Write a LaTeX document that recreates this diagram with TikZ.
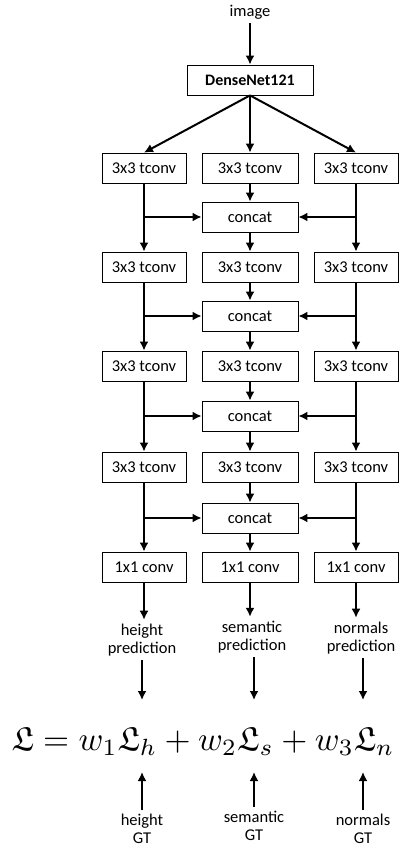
\documentclass[tikz,border=0pt]{standalone}
\usepackage{fontspec}
\setmainfont{Carlito}
\usepackage{amssymb}
\usepackage{graphicx}
\usetikzlibrary{arrows.meta}
\begin{document}
\begin{tikzpicture}[x=1pt,y=-1pt,
        >={Latex[length=9pt,width=9pt]},
        box/.style={draw,line width=0.8pt,minimum width=84pt,minimum height=30pt,inner sep=0pt,font=\fontsize{16.5}{18}\selectfont},
        midbox/.style={box,minimum width=96pt},
        lbl/.style={align=center,inner sep=4pt,font=\fontsize{16.5}{18}\selectfont},
        flow/.style={line width=2pt,->}]
    \useasboundingbox (0,0) rectangle (407,848);
    \node[lbl] (img) at (250,12) {image};
    \node[box,minimum width=126pt,font=\fontsize{16}{18}\selectfont\bfseries] (dn) at (250,80) {DenseNet121};
    \foreach \r/\y/\c in {1/168/217,2/267/316,3/366/416,4/467/518}{
        \node[box] (l\r) at (144,\y) {3x3 tconv};
        \node[midbox] (m\r) at (250,\y) {3x3 tconv};
        \node[box] (r\r) at (356,\y) {3x3 tconv};
        \node[midbox] (c\r) at (250,\c) {concat};
    }
    \node[box] (l5) at (144,567) {1x1 conv};
    \node[midbox] (m5) at (250,567) {1x1 conv};
    \node[box] (r5) at (356,567) {1x1 conv};
    \draw[flow] (img) -- (dn);
    \foreach \n in {l1,m1,r1}
        \draw[flow] (dn.south) -- (\n.north);
    \foreach \r in {1,2,3,4}{
        \pgfmathtruncatemacro{\s}{\r+1}
        \draw[flow] (m\r) -- (c\r);
        \draw[flow] (c\r) -- (m\s);
        \draw[flow] (l\r) -- (l\s);
        \draw[flow] (r\r) -- (r\s);
        \draw[flow] (l\r.south |- c\r.west) -- (c\r.west);
        \draw[flow] (r\r.south |- c\r.east) -- (c\r.east);
    }
    \node[lbl] (hp) at (142,640) {height\\prediction};
    \node[lbl] (sp) at (252,637) {semantic\\prediction};
    \node[lbl] (np) at (361,638) {normals\\prediction};
    \draw[flow] (l5) -- (l5 |- hp.north);
    \draw[flow] (m5) -- (m5 |- sp.north);
    \draw[flow] (r5) -- (r5 |- np.north);
    \node[anchor=base] (loss) at (203,750) {\scalebox{3.35}{$\mathfrak{L} = w_1\mathfrak{L}_h + w_2\mathfrak{L}_s + w_3\mathfrak{L}_n$}};
    \coordinate (ht) at (142,700);
    \coordinate (st) at (254,700);
    \coordinate (nt) at (363,700);
    \coordinate (hb) at (142,772);
    \coordinate (sb) at (254,772);
    \coordinate (nb) at (363,772);
    \draw[flow] (hp.south -| ht) -- (ht);
    \draw[flow] (sp.south -| st) -- (st);
    \draw[flow] (np.south -| nt) -- (nt);
    \node[lbl] (hg) at (142,829) {height\\GT};
    \node[lbl] (sg) at (254,826) {semantic\\GT};
    \node[lbl] (ng) at (363,829) {normals\\GT};
    \draw[flow] (hg) -- (hb);
    \draw[flow] (sg) -- (sb);
    \draw[flow] (ng) -- (nb);
\end{tikzpicture}
\end{document}
